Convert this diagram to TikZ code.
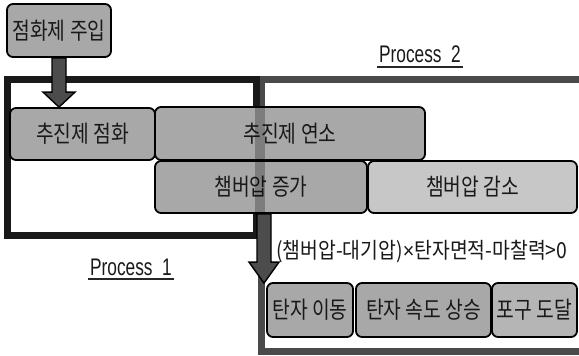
\documentclass[tikz,border=0pt]{standalone}
\usepackage{fontspec}
\usetikzlibrary{calc}
\newfontfamily\kr[FakeStretch=0.82]{Noto Sans CJK KR}
\newfontfamily\krc[FakeStretch=0.88]{Noto Sans CJK KR}
\newfontfamily\lat[FakeStretch=0.72]{Liberation Sans}
\newfontfamily\latn[FakeStretch=0.9]{Liberation Sans}
\definecolor{boxgray}{gray}{0.66}
\definecolor{boxlight}{gray}{0.78}
\definecolor{boxmid}{gray}{0.71}
\definecolor{arrowgray}{gray}{0.30}
\definecolor{frameone}{gray}{0.10}
\definecolor{frametwo}{gray}{0.29}
\tikzset{
  stepbox/.style={draw=black, line width=1.8pt, rounded corners=6pt, fill=boxgray,
    inner sep=0pt, align=center, font=\kr\fontsize{23.5}{25}\selectfont, text=black!90},
  fatarrow/.style={fill=arrowgray, draw=black, line width=1.4pt, line join=miter},
  proclabel/.style={inner sep=0pt, font=\lat\fontsize{24}{26}\selectfont, text=black!90},
  condlabel/.style={inner sep=0pt, font=\krc\fontsize{22}{24}\selectfont, text=black!90}
}
\begin{document}
\begin{tikzpicture}[x=1pt,y=-1pt]
\useasboundingbox (0,0) rectangle (579,356);
\clip (0,0) rectangle (579,356);
\fill[white] (0,0) rectangle (579,356);

% frames
\draw[frametwo, line width=7pt] (261.5,79.5) rectangle (584,351.5);
\draw[frameone, line width=7pt] (7.5,79.5) rectangle (256.5,235.5);

% boxes
\node[stepbox, minimum width=104pt, minimum height=53pt] (top) at (59,30.5) {점화제 주입};
\node[stepbox, minimum width=145pt, minimum height=52pt] (ign) at (82.5,134) {추진제 점화};
\node[stepbox, minimum width=270pt, minimum height=53pt] (comb) at (290,133.5) {추진제 연소};
\node[stepbox, minimum width=212pt, minimum height=52pt] (inc) at (261,187) {챔버압 증가};
\node[stepbox, fill=boxlight, minimum width=209pt, minimum height=52pt] (dec) at (472.5,187) {챔버압 감소};
\node[stepbox, minimum width=86pt, minimum height=54pt] (mv) at (310,310) {탄자 이동};
\node[stepbox, minimum width=135pt, minimum height=54pt] (acc) at (423.5,310) {탄자 속도 상승};
\node[stepbox, fill=boxmid, minimum width=85pt, minimum height=54pt] (muz) at (534.5,310) {포구 도달};

% semi-transparent edge of Process 2 over the boxes
\fill[black, opacity=0.25] (255,107) rectangle (265,213);

% labels
\node[proclabel, anchor=base] (p2) at (420,62) {Process\ \ 2};
\draw[black!85, line width=1.3pt] ($(p2.base west)+(-2,5)$) -- ($(p2.base east)+(2,5)$);
\node[proclabel, anchor=base] (p1) at (131,275) {Process\ \ 1};
\draw[black!85, line width=1.3pt] ($(p1.base west)+(-2,4)$) -- ($(p1.base east)+(2,4)$);

% arrows
\coordinate (a1s) at (top.south);
\coordinate (a1e) at (a1s |- ign.north);
\draw[fatarrow] ($(a1s)+(-7,0)$) -- ($(a1e)+(-7,-15)$) -- ($(a1e)+(-16,-15)$) -- (a1e)
  -- ($(a1e)+(16,-15)$) -- ($(a1e)+(7,-15)$) -- ($(a1s)+(7,0)$) -- cycle;

\coordinate (a2s) at ($(inc.south)+(3,0)$);
\coordinate (a2e) at ($(a2s |- mv.north)+(0,1)$);
\draw[fatarrow] ($(a2s)+(-7,0)$) -- ($(a2e)+(-7,-21)$) -- ($(a2e)+(-15,-21)$) -- (a2e)
  -- ($(a2e)+(15,-21)$) -- ($(a2e)+(7,-21)$) -- ($(a2s)+(7,0)$) -- cycle;

\node[condlabel, anchor=west] (cond) at (276,252) {(챔버압-대기압){\latn×}탄자면적-마찰력>0};
\end{tikzpicture}
\end{document}
